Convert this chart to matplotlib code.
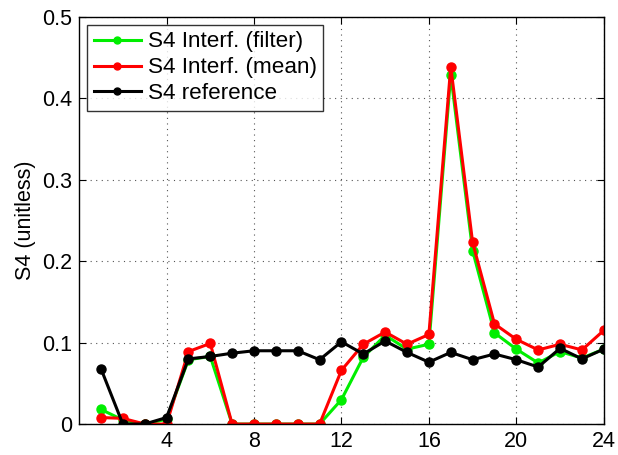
import matplotlib
matplotlib.use("Agg")
import matplotlib.pyplot as plt

plt.rcParams['font.family'] = ['Liberation Sans', 'DejaVu Sans']

hours = list(range(1, 25))
s4_filter = [0.018, 0.005, 0.0, 0.006, 0.079, 0.083, 0.0, 0.0, 0.0, 0.0, 0.0, 0.030,
             0.082, 0.109, 0.092, 0.098, 0.429, 0.213, 0.112, 0.092, 0.075, 0.089, 0.081, 0.092]
s4_mean = [0.008, 0.007, 0.0, 0.0, 0.089, 0.099, 0.0, 0.0, 0.0, 0.0, 0.0, 0.066,
           0.098, 0.113, 0.098, 0.110, 0.439, 0.223, 0.123, 0.104, 0.091, 0.098, 0.091, 0.115]
s4_ref = [0.068, 0.0, 0.0, 0.008, 0.080, 0.083, 0.087, 0.090, 0.090, 0.090, 0.079, 0.101,
          0.086, 0.102, 0.088, 0.076, 0.088, 0.079, 0.086, 0.079, 0.070, 0.093, 0.080, 0.092]
x_ticks = [4, 8, 12, 16, 20, 24]
y_ticks = [0, 0.1, 0.2, 0.3, 0.4, 0.5]
y_tick_labels = ['0', '0.1', '0.2', '0.3', '0.4', '0.5']

fig = plt.figure(figsize=(6.18, 4.55), dpi=100)
ax = fig.add_axes([0.128, 0.068, 0.849, 0.895])

style = dict(lw=2.2, marker='o', markersize=6.5)
ax.plot(hours, s4_filter, color='#00ee00', label='S4 Interf. (filter)', **style)
ax.plot(hours, s4_mean, color='#ff0000', label='S4 Interf. (mean)', **style)
ax.plot(hours, s4_ref, color='#000000', label='S4 reference', **style)

ax.set_xlim(0, 24)
ax.set_ylim(0, 0.5)
ax.set_xticks(x_ticks)
ax.set_yticks(y_ticks)
ax.set_yticklabels(y_tick_labels)
ax.tick_params(direction='in', top=True, right=True, labelsize=15.5, length=5, pad=5)
ax.grid(True, linestyle=(0, (1, 4)), color='#555555', linewidth=0.8)
for sp in ax.spines.values():
    sp.set_linewidth(1.0)

ax.set_ylabel('S4 (unitless)', fontsize=15.5, labelpad=4)

leg = ax.legend(loc='upper left', fontsize=16.2, frameon=True, fancybox=False,
                edgecolor='black', handlelength=2.1, borderaxespad=0.35,
                labelspacing=0.22, handletextpad=0.3, borderpad=0.3)
leg.get_frame().set_linewidth(1.0)
for h in leg.legend_handles:
    h.set_markersize(5)

fig.savefig('out.png', dpi=100)
